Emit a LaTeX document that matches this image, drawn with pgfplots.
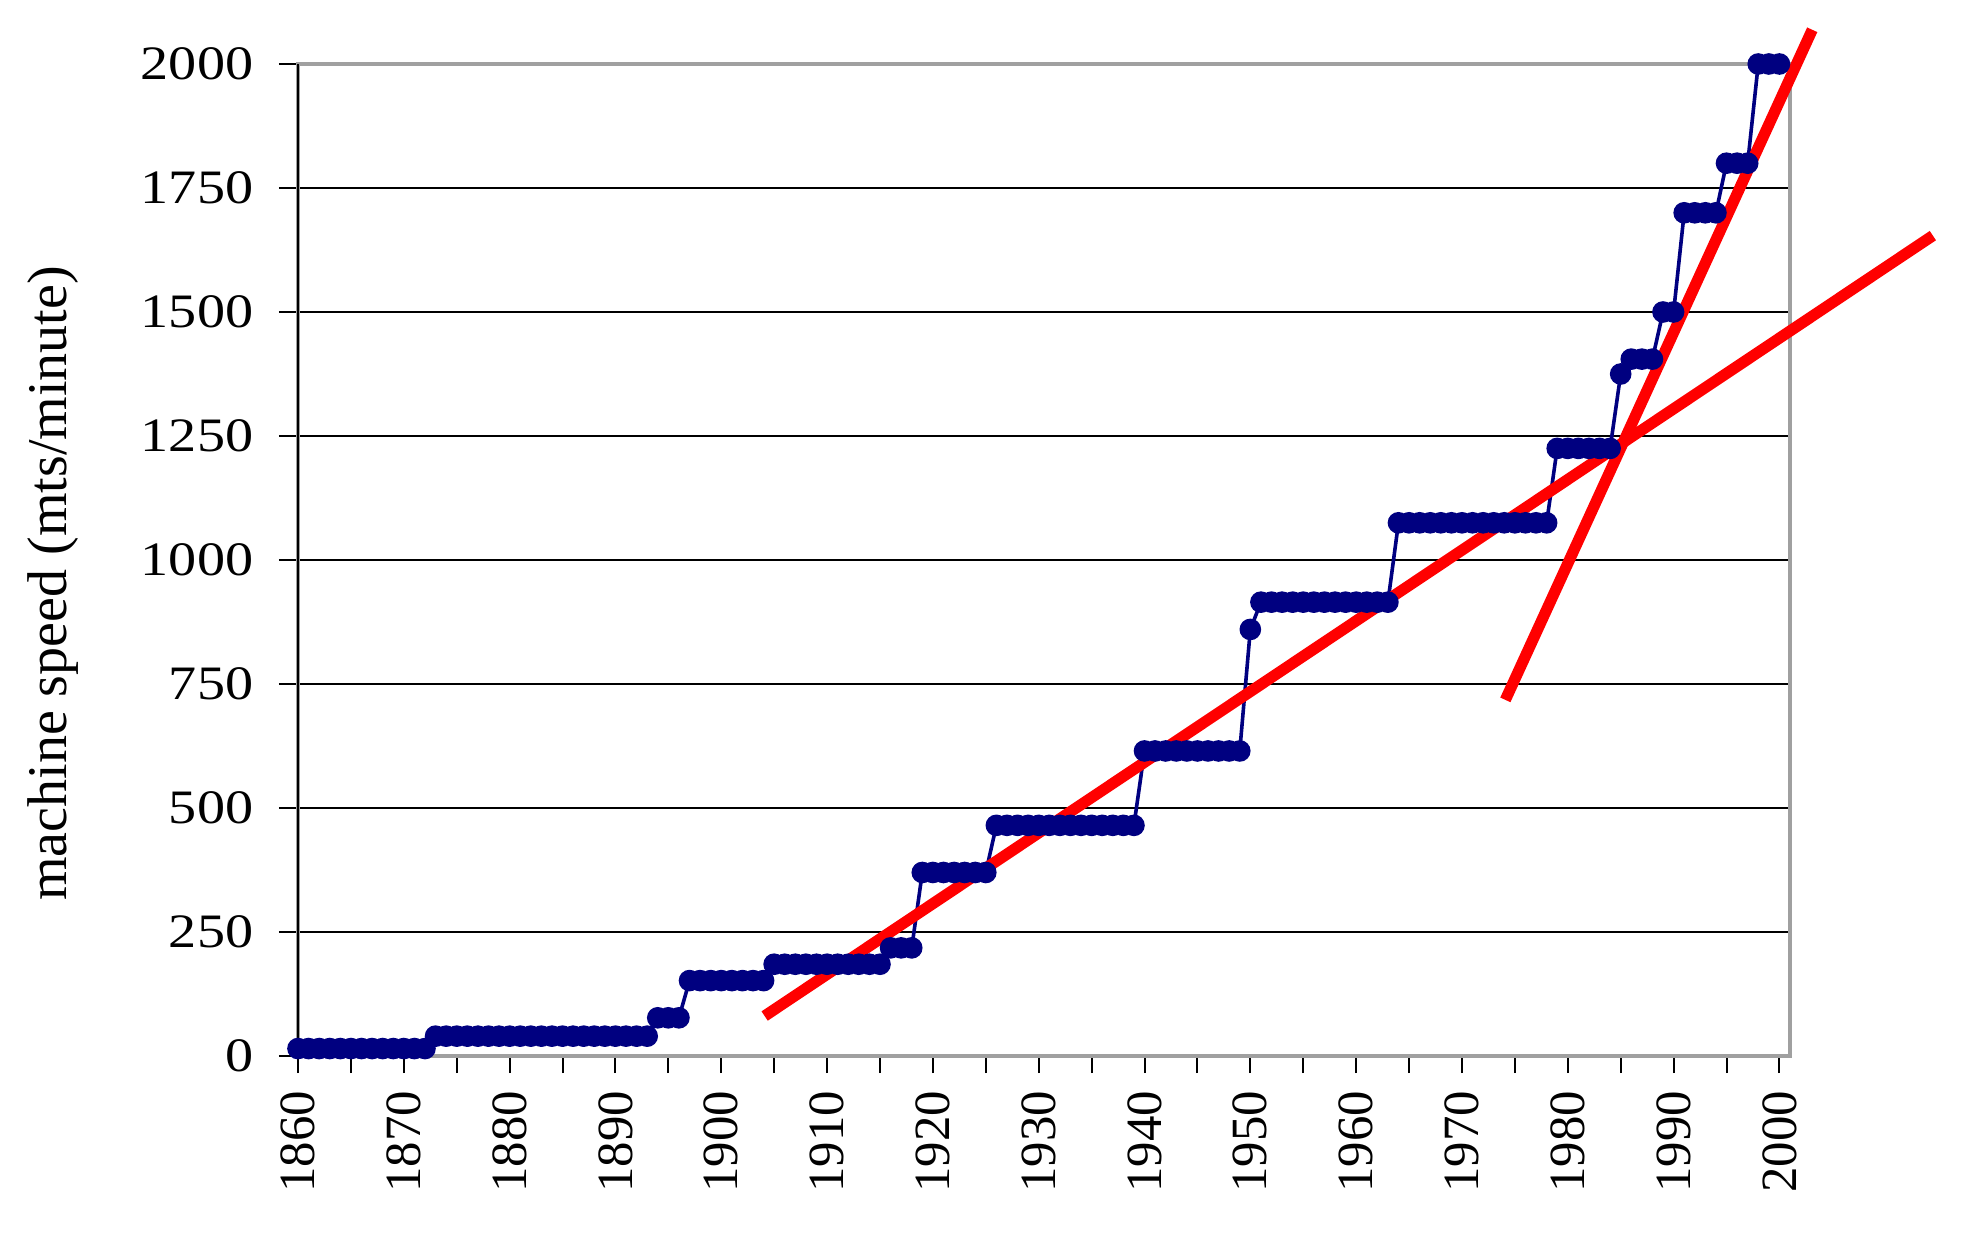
\documentclass[border=0pt]{standalone}
\usepackage{fontspec}
\setmainfont{Liberation Serif}
\newfontfamily\ytickfont{Liberation Serif}[FakeStretch=1.17]
\usepackage{pgfplots}
\pgfplotsset{compat=1.18}
\definecolor{navyblue}{RGB}{0,0,128}
\definecolor{framegray}{RGB}{160,160,160}
\begin{document}
\begin{tikzpicture}
\useasboundingbox (-74.5bp,-50.25bp) rectangle (418.25bp,264bp);
\begin{axis}[
  at={(0,0)}, anchor=south west,
  scale only axis,
  width=373bp, height=248bp,
  xmin=1860, xmax=2001,
  ymin=0, ymax=2000,
  clip=false,
  axis line style={draw=framegray, line width=0.8bp},
  xtick={1860,1870,...,2000},
  minor xtick={1865,1875,...,1995},
  ytick={0,250,...,2000},
  tick align=outside,
  xtick pos=bottom, ytick pos=left,
  xtick style={black, line width=0.5bp, /pgfplots/major tick length=4.25bp, /pgfplots/minor tick length=4.25bp},
  ytick style={black, line width=0.5bp, /pgfplots/major tick length=4.75bp},
  ymajorgrids,
  major grid style={black, line width=0.3bp},
  xticklabel={\fontsize{12.7bp}{12.7bp}\selectfont\pgfmathprintnumber[1000 sep={},assume math mode=true]{\tick}},
  yticklabel={\ytickfont\fontsize{12bp}{12bp}\selectfont\pgfmathprintnumber[1000 sep={},assume math mode=true]{\tick}},
  xticklabel style={rotate=90, anchor=east, inner sep=0pt, xshift=-4.25bp},
  yticklabel style={anchor=east, inner sep=0pt, xshift=-6.75bp},
  ylabel={machine speed (mts/minute)},
  every axis y label/.style={at={(axis description cs:-0.1642,0.4763)}, rotate=90, anchor=center, font=\fontsize{14bp}{14bp}\selectfont},
]
\draw[black, line width=0.5bp] (axis cs:1860,0) -- (axis cs:1860,2000);
\addplot[navyblue, line width=0.9bp, mark=*, mark size=2.25bp, mark options={fill=navyblue, draw=navyblue, solid}] table[x=year, y=speed] {
year speed
1860 15
1861 15
1862 15
1863 15
1864 15
1865 15
1866 15
1867 15
1868 15
1869 15
1870 15
1871 15
1872 15
1873 40
1874 40
1875 40
1876 40
1877 40
1878 40
1879 40
1880 40
1881 40
1882 40
1883 40
1884 40
1885 40
1886 40
1887 40
1888 40
1889 40
1890 40
1891 40
1892 40
1893 40
1894 77
1895 77
1896 77
1897 152
1898 152
1899 152
1900 152
1901 152
1902 152
1903 152
1904 152
1905 185
1906 185
1907 185
1908 185
1909 185
1910 185
1911 185
1912 185
1913 185
1914 185
1915 185
1916 218
1917 218
1918 218
1919 370
1920 370
1921 370
1922 370
1923 370
1924 370
1925 370
1926 465
1927 465
1928 465
1929 465
1930 465
1931 465
1932 465
1933 465
1934 465
1935 465
1936 465
1937 465
1938 465
1939 465
1940 615
1941 615
1942 615
1943 615
1944 615
1945 615
1946 615
1947 615
1948 615
1949 615
1950 860
1951 915
1952 915
1953 915
1954 915
1955 915
1956 915
1957 915
1958 915
1959 915
1960 915
1961 915
1962 915
1963 915
1964 1075
1965 1075
1966 1075
1967 1075
1968 1075
1969 1075
1970 1075
1971 1075
1972 1075
1973 1075
1974 1075
1975 1075
1976 1075
1977 1075
1978 1075
1979 1225
1980 1225
1981 1225
1982 1225
1983 1225
1984 1225
1985 1375
1986 1405
1987 1405
1988 1405
1989 1500
1990 1500
1991 1700
1992 1700
1993 1700
1994 1700
1995 1800
1996 1800
1997 1800
1998 2000
1999 2000
2000 2000
};
\addplot[red, line width=2.8bp, no marks] coordinates {(1904.1,80.6) (2014.5,1654)};
\addplot[red, line width=2.8bp, no marks] coordinates {(1974.1,718) (2003.1,2069)};
\end{axis}
\end{tikzpicture}
\end{document}
